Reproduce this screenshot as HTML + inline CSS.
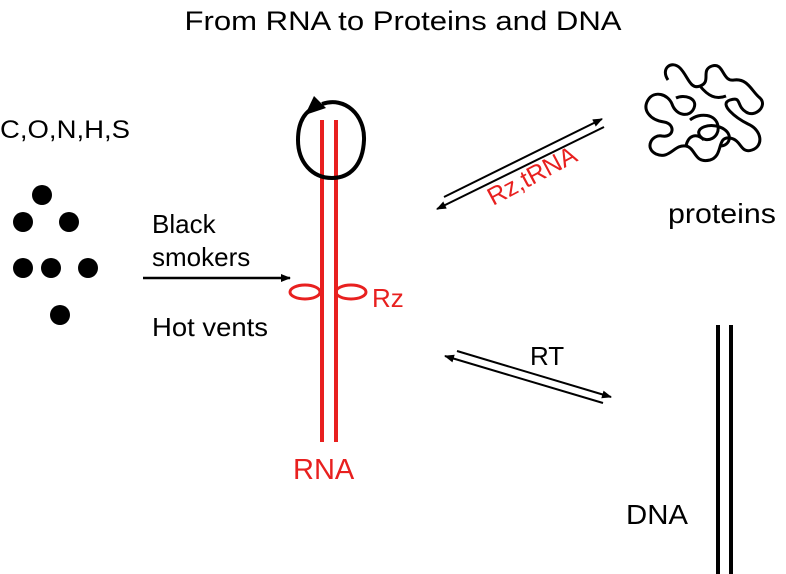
<!DOCTYPE html>
<html><head><meta charset="utf-8"><style>
html,body{margin:0;padding:0;background:#fff}
svg{display:block}
text{font-family:"Liberation Sans",Arial,sans-serif}
</style></head><body>
<svg width="786" height="574" viewBox="0 0 786 574" xmlns="http://www.w3.org/2000/svg">
<defs>
<marker id="ah" markerWidth="10" markerHeight="8" refX="9" refY="4" orient="auto" markerUnits="userSpaceOnUse">
<path d="M0,0 L10,4 L0,8 z" fill="#000"/></marker>
</defs>
<text x="403" y="30" font-size="27" text-anchor="middle" textLength="437" lengthAdjust="spacingAndGlyphs">From RNA to Proteins and DNA</text>
<text x="0" y="138" font-size="25" textLength="130" lengthAdjust="spacingAndGlyphs">C,O,N,H,S</text>
<g fill="#000">
<circle cx="42" cy="195" r="10"/><circle cx="23" cy="222" r="10"/><circle cx="69" cy="222" r="10"/>
<circle cx="23" cy="268" r="10"/><circle cx="51" cy="268" r="10"/><circle cx="88" cy="268" r="10"/>
<circle cx="60" cy="315" r="10"/>
</g>
<text x="152" y="233" font-size="26">Black</text>
<text x="152" y="266" font-size="26">smokers</text>
<text x="152" y="336" font-size="26" textLength="116" lengthAdjust="spacingAndGlyphs">Hot vents</text>
<line x1="143" y1="278" x2="290" y2="278" stroke="#000" stroke-width="2.5" marker-end="url(#ah)"/>
<!-- RNA -->
<line x1="322" y1="120" x2="322" y2="442" stroke="#e8201f" stroke-width="4"/>
<line x1="336" y1="120" x2="336" y2="442" stroke="#e8201f" stroke-width="4"/>
<path d="M322,104 C345,96 365,115 364,140 C363,165 350,178 332,178 C312,178 298,162 298,140 C298,126 302,116 310,110" fill="none" stroke="#000" stroke-width="4"/>
<path d="M305,115 L314,96 L326,108 z" fill="#000"/>
<ellipse cx="305" cy="292" rx="15" ry="7" fill="none" stroke="#e8201f" stroke-width="3"/>
<ellipse cx="351" cy="292" rx="15" ry="7" fill="none" stroke="#e8201f" stroke-width="3"/>
<text x="372" y="307" font-size="26" fill="#e8201f">Rz</text>
<text x="293" y="479" font-size="29" fill="#e8201f">RNA</text>
<!-- Rz,tRNA arrows -->
<line x1="444" y1="197" x2="602" y2="119" stroke="#000" stroke-width="2" marker-end="url(#ah)"/>
<line x1="604" y1="127" x2="437" y2="209" stroke="#000" stroke-width="2" marker-end="url(#ah)"/>
<text x="0" y="0" font-size="25" fill="#e8201f" transform="translate(493,206) rotate(-28)">Rz,tRNA</text>
<!-- proteins blob -->
<g fill="none" stroke="#000" stroke-width="3" stroke-linejoin="round">
<path d="M668,80 C660,68 672,60 680,68 C688,76 690,90 700,86 C712,82 700,70 712,66 C724,62 722,82 734,80 C748,78 752,92 760,98 C768,106 755,118 746,112 C736,106 742,96 730,100 C718,104 736,118 748,124 C762,130 764,146 752,150 C740,154 742,140 730,138 C716,136 724,156 710,160 C694,164 696,148 686,146 C674,144 670,160 656,154 C644,148 652,134 662,136 C674,138 676,124 664,122 C650,120 642,110 648,100 C654,90 668,94 672,104 C676,116 690,118 694,108 C698,98 684,94 676,98"/>
<path d="M690,120 C700,112 716,114 718,126 C720,138 706,144 700,136 C694,128 710,122 722,128 C734,134 730,146 720,146"/>
<path d="M700,86 C708,96 716,100 726,96 M686,146 C688,136 696,132 704,140"/>
</g>
<text x="668" y="223" font-size="28" textLength="108" lengthAdjust="spacingAndGlyphs">proteins</text>
<!-- RT arrows -->
<line x1="457" y1="351" x2="611" y2="397" stroke="#000" stroke-width="2" marker-end="url(#ah)"/>
<line x1="603" y1="403" x2="445" y2="356" stroke="#000" stroke-width="2" marker-end="url(#ah)"/>
<text x="530" y="365" font-size="26">RT</text>
<!-- DNA -->
<line x1="718" y1="325" x2="718" y2="574" stroke="#000" stroke-width="4"/>
<line x1="731" y1="325" x2="731" y2="574" stroke="#000" stroke-width="4"/>
<text x="626" y="524" font-size="28" textLength="62" lengthAdjust="spacingAndGlyphs">DNA</text>
</svg>
</body></html>
